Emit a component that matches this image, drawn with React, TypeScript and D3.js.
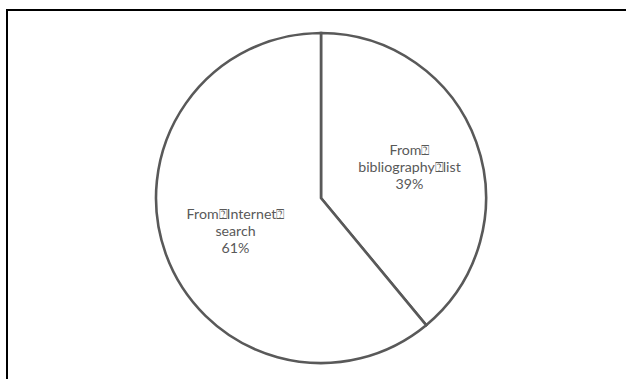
import React from "react";
import * as d3 from "d3";

const BOX = "\u2370";
const categories = ["From bibliography list", "From Internet search"];
const values = [39, 61];
const labelLines = [
  [`From${BOX}`, `bibliography${BOX}list`, "39%"],
  [`From${BOX}Internet${BOX}`, "search", "61%"],
];

const W = 626;
const H = 379;
const cx = 321;
const cy = 198;
const R = 165;

export default function App() {
  const pie = d3.pie<number>().sort(null).value((d) => d)(values);
  const arc = d3.arc<d3.PieArcDatum<number>>().innerRadius(0).outerRadius(R);
  const labelArc = d3
    .arc<d3.PieArcDatum<number>>()
    .innerRadius(R * 0.57)
    .outerRadius(R * 0.57);
  const lineH = 17.3;
  return (
    <svg
      width={W}
      height={H}
      style={{ position: "absolute", left: 0, top: 0, background: "#fff" }}
    >
      <rect x={7} y={10} width={800} height={600} fill="#fff" stroke="#000" strokeWidth={2} />
      <g transform={`translate(${cx},${cy})`}>
        {pie.map((p, i) => (
          <path
            key={categories[i]}
            d={arc(p) || ""}
            fill="#fff"
            stroke="#595959"
            strokeWidth={2.6}
            strokeLinejoin="miter"
          />
        ))}
        {pie.map((p, i) => {
          const [lx, ly] = labelArc.centroid(p);
          const lines = labelLines[i];
          const n = lines.length;
          return (
            <text
              key={"l" + i}
              textAnchor="middle"
              fontFamily="Lato, 'Liberation Sans', sans-serif"
              fontSize={14.2}
              fill="#595959"
            >
              {lines.map((t, j) => (
                <tspan key={j} x={lx + (i === 1 ? 3 : 0)} y={ly + (j - (n - 1) / 2) * lineH + 6}>
                  {t}
                </tspan>
              ))}
            </text>
          );
        })}
      </g>
    </svg>
  );
}
